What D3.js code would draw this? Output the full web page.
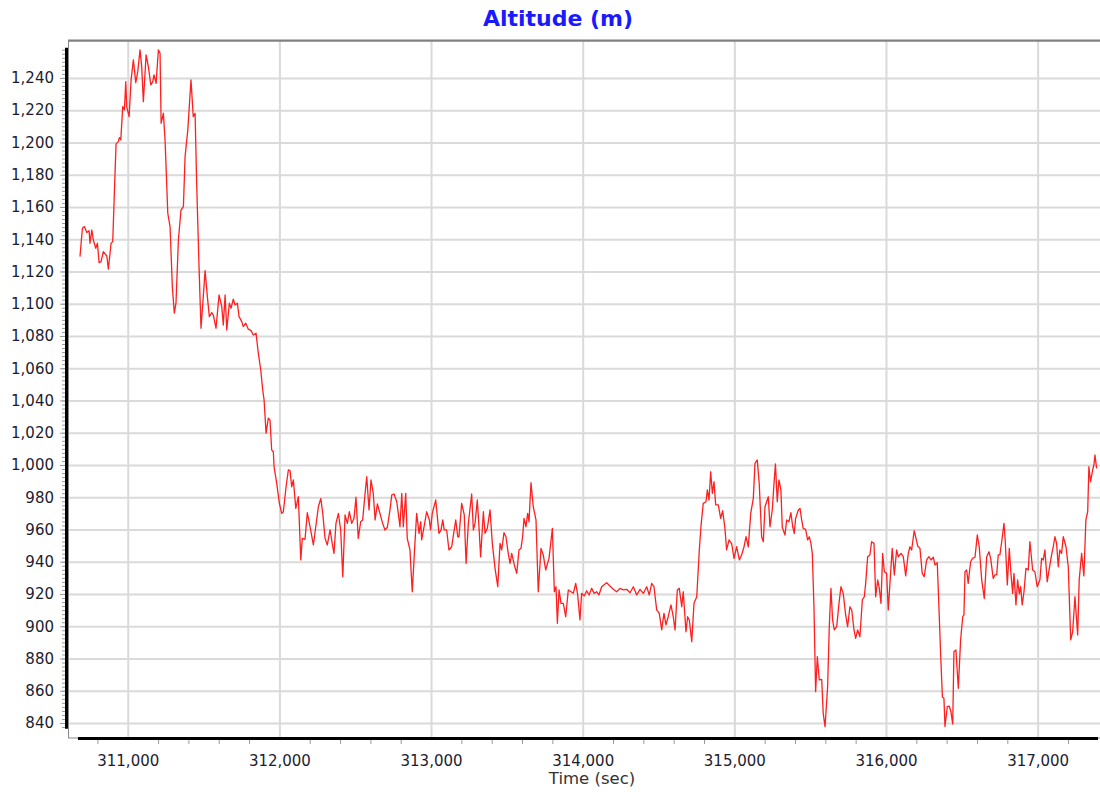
<!DOCTYPE html>
<html>
<head>
<meta charset="utf-8">
<script src="https://cdn.jsdelivr.net/npm/d3@7"></script>
<style>
  body { margin: 0; background: #fff; }
  svg { display: block; font-family: "DejaVu Sans", Verdana, sans-serif; }
</style>
</head>
<body>
<div id="chart"></div>
<script>
///////////////////////////////////////////////////////////////////
//DATA////////////////////////////////////
var timeSec = [
  310685,310701,310714,310730,310745,310751,310763,310773,310789,310800,
  310811,310824,310839,310862,310872,310890,310901,310916,310923,310938,
  310945,310954,310967,310978,310987,310993,311009,311022,311037,311053,
  311066,311081,311092,311103,311121,311136,311152,311165,311173,311187,
  311202,311213,311220,311235,311246,311264,311279,311294,311307,311318,
  311334,311351,311367,311378,311396,311417,311432,311444,311455,311470,
  311483,311498,311510,311525,311538,311554,311564,311582,311602,311620,
  311630,311642,311653,311670,311681,311696,311708,311723,311734,311752,
  311762,311778,311795,311813,311828,311846,311861,311877,311890,311899,
  311912,311927,311938,311949,311960,311965,311982,312000,312015,312026,
  312044,312059,312070,312081,312092,312108,312125,312141,312151,312169,
  312184,312202,312224,312237,312257,312273,312286,312301,312316,312334,
  312352,312360,312373,312389,312404,312418,312433,312448,312461,312477,
  312492,312505,312520,312536,312549,312565,312576,312591,312604,312619,
  312631,312646,312663,312681,312696,312712,312729,312741,312756,312774,
  312784,312795,312807,312817,312833,312843,312861,312876,312890,312905,
  312921,312932,312938,312954,312971,312989,312997,313008,313031,313052,
  313066,313077,313087,313103,313118,313136,313163,313176,313184,313202,
  313219,313231,313246,313268,313279,313290,313305,313316,313327,313345,
  313356,313371,313389,313404,313422,313440,313455,313466,313481,313494,
  313509,313521,313532,313549,313565,313580,313593,313604,313613,313626,
  313637,313646,313659,313674,313692,313707,313725,313740,313756,313778,
  313800,313813,313824,313833,313844,313857,313872,313888,313905,313923,
  313938,313954,313967,313982,313993,314011,314026,314042,314059,314076,
  314092,314107,314125,314147,314158,314180,314202,314224,314246,314268,
  314290,314312,314334,314356,314378,314400,314422,314439,314455,314470,
  314488,314505,314521,314536,314549,314564,314582,314597,314609,314624,
  314637,314653,314663,314681,314692,314703,314719,314734,314752,314769,
  314780,314795,314813,314822,314833,314844,314855,314866,314877,314894,
  314910,314923,314938,314949,314965,314982,314998,315015,315033,315048,
  315064,315077,315092,315108,315125,315136,315151,315164,315180,315191,
  315202,315213,315224,315235,315250,315263,315271,315283,315294,315307,
  315316,315334,315345,315360,315373,315385,315395,315404,315422,315433,
  315444,315454,315470,315483,315494,315505,315514,315525,315536,315547,
  315560,315576,315586,315598,315615,315626,315637,315648,315659,315675,
  315690,315703,315718,315734,315747,315762,315774,315789,315800,315813,
  315828,315844,315857,315866,315879,315894,315905,315921,315932,315945,
  315956,315967,315978,315989,316004,316015,316026,316041,316055,316070,
  316081,316099,316114,316130,316147,316158,316169,316186,316198,316209,
  316224,316239,316252,316268,316283,316297,316312,316323,316338,316349,
  316361,316372,316382,316389,316404,316417,316428,316440,316448,316461,
  316477,316492,316506,316514,316521,316532,316542,316558,316571,316587,
  316602,316615,316631,316648,316664,316679,316690,316707,316718,316730,
  316740,316751,316763,316778,316786,316800,316813,316824,316835,316844,
  316857,316868,316879,316888,316898,316910,316923,316938,316949,316967,
  316982,316997,317015,317026,317037,317048,317063,317077,317092,317103,
  317114,317125,317136,317146,317158,317169,317187,317202,317218,317231,
  317246,317257,317264,317274,317290,317305,317318,317330,317338,317349,
  317363,317371,317378,317389
];

var altitudeM = [
  1129.2,1146.8,1147.8,1144.1,1145.3,1137.5,1145.7,1139.5,1134.4,1137.5,
  1125.5,1126.1,1132.3,1129.6,1121.4,1137.5,1138.5,1180.9,1199.1,1200.5,
  1203.0,1201.6,1222.2,1220.2,1237.7,1222.2,1216.0,1238.8,1251.2,1237.1,
  1243.9,1257.4,1247.0,1225.3,1254.3,1247.0,1235.7,1237.7,1241.9,1236.7,
  1257.4,1255.3,1211.9,1218.1,1201.6,1156.1,1147.8,1110.6,1094.1,1100.3,
  1139.5,1158.1,1160.2,1191.2,1207.8,1238.8,1216.0,1218.1,1172.6,1123.0,
  1084.8,1104.4,1120.5,1104.4,1092.0,1094.5,1093.0,1084.8,1105.4,1098.2,
  1086.8,1105.4,1083.7,1100.3,1097.2,1102.8,1099.2,1100.3,1092.0,1088.9,
  1085.8,1087.9,1084.2,1083.3,1080.6,1081.7,1069.3,1058.9,1046.5,1040.3,
  1019.7,1029.0,1027.9,1009.3,1008.2,998.9,988.7,976.2,970.0,971.0,
  986.5,996.9,996.5,986.5,990.7,973.1,980.3,941.1,954.5,953.9,
  970.4,961.7,950.4,959.7,974.1,979.3,970.0,954.5,950.4,959.7,
  949.3,945.2,963.8,970.0,959.7,930.7,969.0,963.8,971.0,963.8,
  966.9,980.0,954.5,964.8,965.9,982.4,992.7,972.1,990.7,982.4,
  965.9,975.8,970.0,963.8,959.7,961.4,972.1,981.4,982.0,977.2,
  970.0,961.7,982.4,961.7,982.4,954.5,947.3,921.4,945.2,970.0,
  957.6,964.8,953.5,961.7,971.0,965.9,959.7,970.0,978.3,957.6,
  959.7,965.9,959.7,959.7,947.3,949.3,965.9,955.5,955.5,976.2,
  969.0,939.0,963.8,982.0,959.7,963.8,978.3,961.7,943.1,971.0,
  957.6,960.7,972.1,951.4,935.9,924.5,951.4,947.3,958.0,955.5,
  945.2,939.0,945.2,938.0,932.8,947.3,948.3,955.5,966.9,961.7,
  970.0,964.8,989.0,974.1,965.9,921.4,948.3,944.2,934.9,942.1,
  960.7,921.4,924.5,901.8,922.5,914.2,914.2,905.9,922.5,921.4,
  920.4,926.6,919.4,903.9,920.4,918.8,922.0,919.4,923.5,920.4,
  921.4,919.4,924.5,926.2,927.0,925.0,922.9,921.4,923.5,922.5,
  922.9,920.8,924.5,919.4,922.9,920.4,924.5,919.4,926.6,924.5,
  910.1,908.0,897.7,908.0,900.8,905.9,913.2,905.9,897.7,922.5,
  923.5,912.1,921.4,896.6,905.9,903.9,890.4,914.2,918.3,947.3,
  962.2,976.2,977.2,984.5,978.3,995.8,982.4,989.6,975.2,975.2,
  966.9,971.6,960.7,947.3,953.5,951.4,942.1,949.3,941.1,944.2,
  949.3,955.5,949.3,970.0,979.3,1001.0,1003.1,988.7,955.5,952.4,
  974.1,977.2,980.3,961.7,972.1,990.7,1000.6,977.2,990.7,984.5,
  961.4,956.6,965.9,964.8,970.4,961.7,957.6,966.9,972.1,973.1,
  965.9,960.7,960.1,953.5,955.5,951.4,945.2,912.1,859.4,881.1,
  866.7,867.1,846.0,837.7,862.5,899.7,923.5,903.9,897.7,899.7,
  914.2,924.5,920.4,907.0,899.7,912.1,910.1,897.7,892.5,897.7,
  893.5,916.3,918.3,926.6,943.1,944.2,952.4,951.4,918.3,928.7,
  923.5,914.2,945.2,933.8,932.8,910.1,926.6,948.3,931.8,947.3,
  943.1,945.2,943.1,931.2,945.2,949.3,947.3,959.2,954.5,949.8,
  948.3,932.8,930.7,941.1,943.1,941.1,942.8,938.0,939.4,912.1,
  881.1,856.1,855.3,837.8,850.1,850.5,847.0,839.4,884.2,885.3,
  861.5,891.5,905.9,907.0,933.8,934.9,926.6,940.0,942.1,942.8,
  956.6,949.3,928.7,917.3,943.1,946.2,942.1,929.7,931.8,931.8,
  944.2,944.2,952.4,963.8,953.5,925.6,948.3,932.8,920.4,932.8,
  913.2,928.7,920.0,924.5,913.2,921.4,935.9,934.9,952.4,934.9,
  933.8,924.5,928.7,942.1,941.1,947.3,927.6,935.9,944.2,949.3,
  955.5,951.4,936.9,947.3,945.2,955.5,949.3,936.9,891.5,896.6,
  918.3,903.9,894.6,928.7,945.2,931.2,965.9,971.0,998.9,989.6,
  996.9,1000.0,1006.2,997.9
];

var altTicks = d3.range(840, 1241, 20);
var altMinorTicks = d3.range(837.5, 1258, 2.5);
var timeTicks = d3.range(311000, 317001, 1000);
var timeMinorTicks = d3.range(310800, 317400, 200).filter(function(d){ return d % 1000 !== 0; });

///////////////////////////////////////////////////////////////////
//PAGE SETUP///////////////////////////////////////////////////////
var width = 1100, height = 792;
var plotLeft = 68, plotTop = 41, plotRight = 1098, plotBottom = 738;

var x = d3.scaleLinear().domain([310606, 317398]).range([plotLeft, plotRight]);
var y = d3.scaleLinear().domain([830.7, 1262.9]).range([plotBottom, plotTop]);

var svg = d3.select("#chart").append("svg")
  .attr("width", width).attr("height", height);

//GRID/////////////////////////////////////////////////////////////
var hGrid = svg.append("g").attr("class", "grid")
  .attr("transform", "translate(" + plotLeft + ",0)")
  .call(d3.axisLeft(y).tickValues(altTicks).tickSize(-(width - plotLeft)).tickFormat(""));
var vGrid = svg.append("g").attr("class", "grid")
  .attr("transform", "translate(0," + plotBottom + ")")
  .call(d3.axisBottom(x).tickValues(timeTicks).tickSize(-(plotBottom - plotTop)).tickFormat(""));
svg.selectAll(".grid .domain").remove();
svg.selectAll(".grid line").attr("stroke", "#dadada").attr("stroke-width", 2);

//FRAME////////////////////////////////////////////////////////////
svg.append("rect")
  .attr("x", plotLeft + 0.5).attr("y", plotTop)
  .attr("width", width - plotLeft).attr("height", plotBottom - plotTop)
  .attr("fill", "none").attr("stroke", "#8a8a8a").attr("stroke-width", 1);
svg.append("line")
  .attr("x1", plotLeft).attr("x2", width)
  .attr("y1", plotTop - 0.5).attr("y2", plotTop - 0.5)
  .attr("stroke", "#808080").attr("stroke-width", 2);

//SERIES///////////////////////////////////////////////////////////
var altLine = d3.line()
  .x(function(d, i){ return x(timeSec[i]); })
  .y(function(d){ return y(d); });

svg.append("path")
  .datum(altitudeM)
  .attr("d", altLine)
  .attr("fill", "none")
  .attr("stroke", "#ff1f1f")
  .attr("stroke-width", 1.3)
  .attr("stroke-linejoin", "round");

//AXES/////////////////////////////////////////////////////////////
var yMinor = svg.append("g").attr("class", "minor")
  .attr("transform", "translate(65,0)")
  .call(d3.axisLeft(y).tickValues(altMinorTicks).tickSize(3).tickFormat(""));
var xMinor = svg.append("g").attr("class", "minor")
  .attr("transform", "translate(0," + (plotBottom + 1) + ")")
  .call(d3.axisBottom(x).tickValues(timeMinorTicks).tickSize(5).tickFormat(""));
svg.selectAll(".minor .domain").remove();
svg.selectAll(".minor line").attr("stroke", "#9a9a9a").attr("stroke-width", 1);

var yAxis = svg.append("g").attr("class", "axis")
  .attr("transform", "translate(65,0)")
  .call(d3.axisLeft(y).tickValues(altTicks).tickSize(5).tickPadding(6).tickFormat(d3.format(",")));
var xAxis = svg.append("g").attr("class", "axis")
  .attr("transform", "translate(0," + plotBottom + ")")
  .call(d3.axisBottom(x).tickValues(timeTicks).tickSize(0).tickPadding(17).tickFormat(d3.format(",")));
svg.selectAll(".axis .domain").remove();
svg.selectAll(".axis line").attr("stroke", "#9a9a9a");
svg.selectAll(".axis text")
  .attr("fill", "#1c1c30")
  .style("font-size", "15px")
  .style("font-family", "'DejaVu Sans', Verdana, sans-serif");

// range-frame axis lines: span only the data extent
var altExtent = d3.extent(altitudeM);
svg.append("line")
  .attr("x1", 66.5).attr("x2", 66.5)
  .attr("y1", y(altExtent[1]) - 2).attr("y2", y(altExtent[0]) + 2)
  .attr("stroke", "#000").attr("stroke-width", 3);
svg.append("line")
  .attr("x1", x(timeSec[0]) - 2).attr("x2", plotRight)
  .attr("y1", plotBottom + 0.5).attr("y2", plotBottom + 0.5)
  .attr("stroke", "#000").attr("stroke-width", 3);

//TITLES///////////////////////////////////////////////////////////
svg.append("text")
  .attr("x", 558).attr("y", 26)
  .attr("text-anchor", "middle")
  .style("font-size", "22px").style("font-weight", "bold")
  .attr("fill", "#1a1aff")
  .text("Altitude (m)");

svg.append("text")
  .attr("x", 592).attr("y", 784)
  .attr("text-anchor", "middle")
  .style("font-size", "16.5px")
  .attr("fill", "#333")
  .text("Time (sec)");
</script>
</body>
</html>
